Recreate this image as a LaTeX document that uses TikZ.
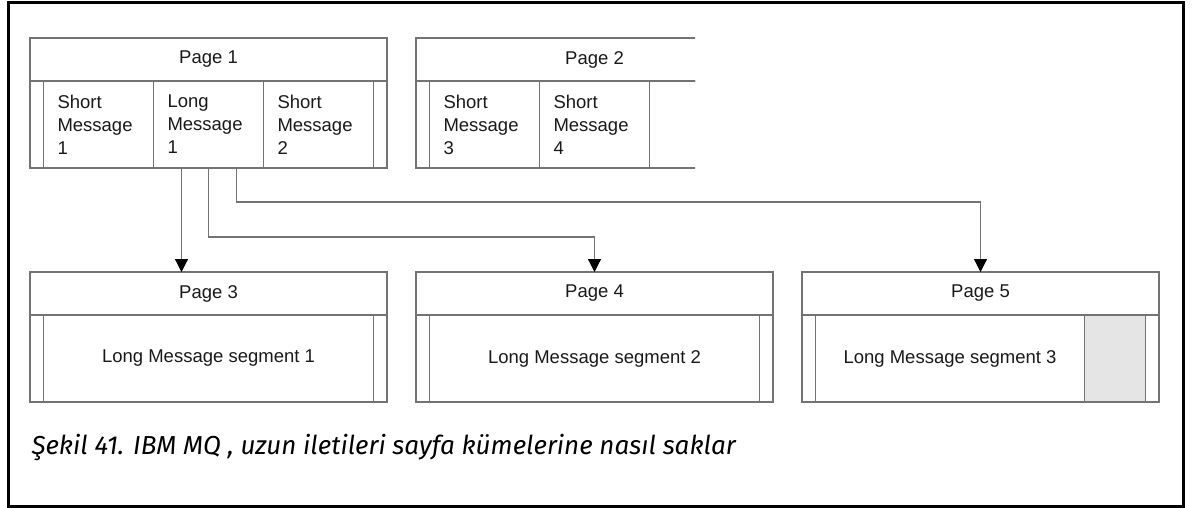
\documentclass[tikz,border=0pt]{standalone}
\usepackage{fontspec}
\newfontfamily\labelfont{Liberation Sans}
\newfontfamily\capfont{Fira Sans}
\usetikzlibrary{arrows.meta,positioning}

\tikzset{
  frame/.style={draw=black,line width=3pt},
  pline/.style={draw=black!55,line width=1.2pt,outer sep=0pt,inner sep=0pt},
  lbl/.style={font=\labelfont\fontsize{18.5}{23}\selectfont,text=black!90},
  pagehead/.style={pline,lbl,minimum width=357,minimum height=43,anchor=north west},
  strip/.style={pline,minimum width=13.5,minimum height=87},
  msgcell/.style={pline,lbl,minimum width=110,minimum height=87,
    inner xsep=14pt,text width=82,align=left},
  segcell/.style={pline,lbl,minimum width=#1,minimum height=87,align=center},
  freecell/.style={pline,fill=black!10,minimum width=61,minimum height=87},
  conn/.style={draw=black!55,line width=1.2pt,-{Triangle[length=13pt,width=13pt,color=black]}},
}

\begin{document}
\begin{tikzpicture}[x=1pt,y=-1pt]

\useasboundingbox (0,0) rectangle (1194,508);
\draw[frame] (8,3) rectangle (1183,506);

%==== Page 1 ====
\node[pagehead] (p1) at (30,38) {Page 1};
\node[strip,anchor=north west] (p1l) at (p1.south west) {};
\node[msgcell,right=0pt of p1l] (sm1) {Short\\Message\\1};
\node[msgcell,right=0pt of sm1] (lm1) {Long\\Message\\1};
\node[msgcell,right=0pt of lm1] (sm2) {Short\\Message\\2};
\node[strip,right=0pt of sm2] (p1r) {};

%==== Page 2 (cut off on the right) ====
\begin{scope}
  \clip (405,30) rectangle (695,180);
  \node[pagehead] (p2) at (416,38) {Page 2};
  \node[strip,anchor=north west] (p2l) at (p2.south west) {};
  \node[msgcell,right=0pt of p2l] (sm3) {Short\\Message\\3};
  \node[msgcell,right=0pt of sm3] (sm4) {Short\\Message\\4};
  \node[msgcell,right=0pt of sm4] (p2e) {};
  \node[strip,right=0pt of p2e] (p2r) {};
\end{scope}

%==== Page 3 ====
\node[pagehead] (p3) at (30,272) {Page 3};
\node[strip,anchor=north west] (p3l) at (p3.south west) {};
\node[segcell=330,right=0pt of p3l] (seg1) {Long Message segment 1};
\node[strip,right=0pt of seg1] (p3r) {};

%==== Page 4 ====
\node[pagehead] (p4) at (416,272) {Page 4};
\node[strip,anchor=north west] (p4l) at (p4.south west) {};
\node[segcell=330,right=0pt of p4l] (seg2) {Long Message segment 2};
\node[strip,right=0pt of seg2] (p4r) {};

%==== Page 5 ====
\node[pagehead] (p5) at (802,272) {Page 5};
\node[strip,anchor=north west] (p5l) at (p5.south west) {};
\node[segcell=269,right=0pt of p5l] (seg3) {Long Message segment 3};
\node[freecell,right=0pt of seg3] (p5f) {};
\node[strip,right=0pt of p5f] (p5r) {};

% long message -> segments
\draw[conn] ([xshift=-27pt]lm1.south) -- ([xshift=-27pt]lm1.south |- p3.north);
\draw[conn] (lm1.south) -- ++(0,69) -| (p4.north);
\draw[conn] ([xshift=28pt]lm1.south) -- ++(0,34) -| (p5.north);

% caption
\node[anchor=base west,font=\capfont\itshape\fontsize{26}{30}\selectfont] (cap) at (28,454)
  {Şekil 41. IBM MQ , uzun iletileri sayfa kümelerine nasıl saklar};

\end{tikzpicture}
\end{document}
